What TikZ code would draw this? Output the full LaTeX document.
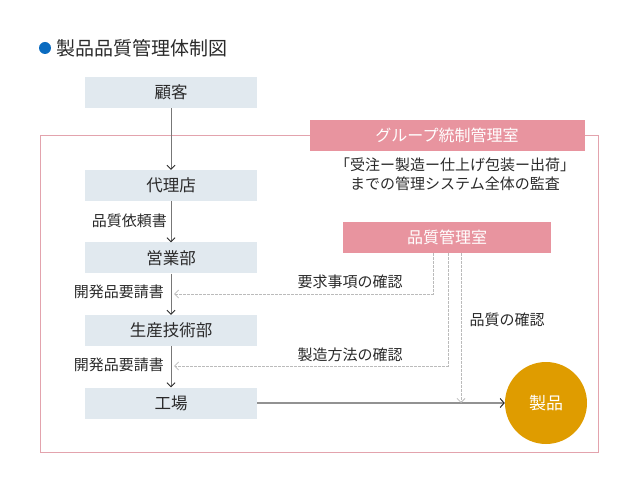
\documentclass[tikz,border=0pt]{standalone}
\usepackage{fontspec}
\setmainfont{Noto Sans CJK JP}
\usetikzlibrary{arrows.meta}
\definecolor{boxfill}{HTML}{E1E9EF}
\definecolor{pinkbox}{HTML}{E8949F}
\definecolor{pinkline}{HTML}{E3A3AD}
\definecolor{amber}{HTML}{DF9C00}
\definecolor{bluedot}{HTML}{0A6BC0}
\definecolor{txt}{HTML}{2A2A2A}
\definecolor{flow}{HTML}{777777}
\definecolor{dashc}{HTML}{BBBBBB}
\tikzset{
  orgbox/.style={fill=boxfill, minimum width=172pt, minimum height=31pt, inner sep=0pt, text=txt, font=\fontsize{16.5}{18}\selectfont},
  pinkhead/.style={fill=pinkbox, inner sep=0pt, minimum height=31pt, text=white, font=\fontsize{16}{18}\selectfont},
  lbl/.style={text=txt, inner sep=0pt, font=\fontsize{15}{17}\selectfont},
  flowarrow/.style={draw=flow, line width=0.8pt, -{Straight Barb[length=4pt,width=8pt,line width=0.9pt]}, arrows={[color=txt]}},
  chkarrow/.style={draw=dashc, line width=0.7pt, dash pattern=on 2.5pt off 1.5pt, -{Straight Barb[length=4pt,width=8pt,line width=0.8pt]}},
  prodarrow/.style={draw=flow!80, line width=1.4pt, -{Straight Barb[length=4pt,width=9pt,line width=1pt]}, arrows={[color=txt]}},
}
\begin{document}
\begin{tikzpicture}[x=1pt,y=-1pt]
\useasboundingbox (0,0) rectangle (640,494);
% title
\node[circle, fill=bluedot, minimum size=12pt, inner sep=0pt] (dot) at (45,48) {};
\node[anchor=west, text=txt, inner sep=0pt, font=\fontsize{19}{21}\selectfont] (title) at (56,48) {製品品質管理体制図};
% frame
\node[draw=pinkline, line width=1pt, minimum width=558pt, minimum height=316pt, inner sep=0pt] (frame) at (319,294) {};
% boxes
\node[orgbox] (kokyaku) at (171,92.5) {顧客};
\node[orgbox] (dairiten) at (171,185.5) {代理店};
\node[orgbox] (eigyo) at (171,258) {営業部};
\node[orgbox] (seisan) at (171,330.5) {生産技術部};
\node[orgbox] (kojo) at (171,403) {工場};
% pink headers
\node[pinkhead, minimum width=275pt] (group) at (447,135.5) {グループ統制管理室};
\node[pinkhead, minimum width=208pt] (qc) at (447,237.5) {品質管理室};
\node[text=txt, inner sep=0pt, align=center, font=\fontsize{15}{19}\selectfont] (audit) at (455,174.5) {「受注ー製造ー仕上げ包装ー出荷」\\までの管理システム全体の監査};
% product
\node[circle, fill=amber, minimum size=82pt, inner sep=0pt, text=white, font=\fontsize{17}{19}\selectfont] (prod) at (546,403) {製品};
% flow arrows
\draw[flowarrow] (kokyaku) -- (dairiten);
\draw[flowarrow] (dairiten) -- (eigyo);
\draw[flowarrow] (eigyo) -- (seisan);
\draw[flowarrow] (seisan) -- (kojo);
\draw[prodarrow] (kojo) -- (prod);
% labels
\node[lbl, anchor=east] (l1) at (167,221) {品質依頼書};
\node[lbl, anchor=east] (l2) at (164,292) {開発品要請書};
\node[lbl, anchor=east] (l3) at (164,365) {開発品要請書};
% check arrows
\coordinate (c1) at (174,294);
\coordinate (c2) at (174,366);
\coordinate (c3) at (461,403);
\draw[chkarrow] (qc.south -| 433,0) |- (c1);
\draw[chkarrow] (qc.south -| 448,0) |- (c2);
\draw[chkarrow] (qc.south -| c3) -- (c3);
\node[lbl] (t1) at (350,282) {要求事項の確認};
\node[lbl] (t2) at (350,355) {製造方法の確認};
\node[lbl] (t3) at (507,320) {品質の確認};
\end{tikzpicture}
\end{document}
